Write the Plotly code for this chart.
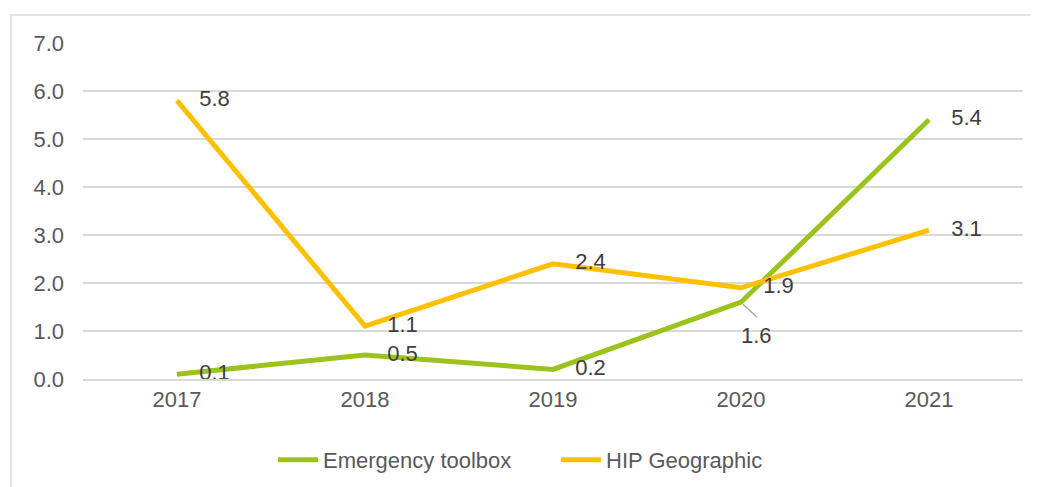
import plotly.graph_objects as go

years = ["2017", "2018", "2019", "2020", "2021"]
emergency = [0.1, 0.5, 0.2, 1.6, 5.4]
hip = [5.8, 1.1, 2.4, 1.9, 3.1]
y_ticks = [0, 1, 2, 3, 4, 5, 6, 7]
y_tick_text = ["0.0", "1.0", "2.0", "3.0", "4.0", "5.0", "6.0", "7.0"]

GREEN = "#9BC31C"
YELLOW = "#FFC000"
TEXT = "#595959"
LABEL = "#404040"
GRID = "#D9D9D9"
FONT = "Liberation Sans, Arial, sans-serif"
FS = 22
NBSP = "\u00a0"

fig = go.Figure()
fig.add_trace(go.Scatter(x=years, y=emergency, mode="lines", name="Emergency toolbox",
                         line=dict(color=GREEN, width=5)))
fig.add_trace(go.Scatter(x=years, y=hip, mode="lines", name="HIP Geographic",
                         line=dict(color=YELLOW, width=5)))

# data labels right of the points (the 2020 emergency label goes below)
for name, series in (("em", emergency), ("hip", hip)):
    texts = []
    for x, v in zip(years, series):
        texts.append("" if (name == "em" and x == "2020") else f"{v:.1f}")
    fig.add_trace(go.Scatter(x=years, y=series, mode="markers+text", text=texts,
                             textposition="middle right",
                             textfont=dict(family=FONT, size=FS, color=LABEL),
                             marker=dict(size=34, opacity=0), showlegend=False,
                             hoverinfo="skip", cliponaxis=False))

# 2020 emergency label below the point, with a leader line
idx = years.index("2020")
fig.add_trace(go.Scatter(x=[years[idx]], y=[emergency[idx]], mode="markers+text",
                         text=[NBSP * 5 + f"{emergency[idx]:.1f}"],
                         textposition="bottom center",
                         textfont=dict(family=FONT, size=FS, color=LABEL),
                         marker=dict(size=37, opacity=0), showlegend=False,
                         hoverinfo="skip", cliponaxis=False))

W, H = 1030, 479
L, R, T, B = 75, 15, 35, 108
pw, ph = W - L - R, H - T - B

fig.update_layout(
    width=W, height=H,
    margin=dict(l=L, r=R, t=T, b=B, autoexpand=False),
    paper_bgcolor="white", plot_bgcolor="white",
    font=dict(family=FONT, size=FS, color=TEXT),
    showlegend=True,
    legend=dict(orientation="h", x=(548 - L) / pw, xanchor="center",
                yref="container", y=1 - 452 / H, yanchor="middle",
                font=dict(family=FONT, size=FS, color=TEXT), itemwidth=40,
                entrywidth=228),
    shapes=[
        dict(type="rect", xref="paper", yref="paper",
             x0=(3 - L) / pw, x1=(1050 - L) / pw,
             y0=-(500 - (T + ph)) / ph, y1=((T + ph) - 7) / ph,
             line=dict(color=GRID, width=1.5), fillcolor="rgba(0,0,0,0)", layer="below"),
        dict(type="line", xref="x", yref="y", xsizemode="pixel", ysizemode="pixel",
             xanchor=idx, yanchor=emergency[idx], x0=2, y0=-2, x1=16, y1=-15,
             line=dict(color="#A6A6A6", width=1.3)),
    ],
)
fig.update_xaxes(type="category", range=[-0.5, 4.5], showgrid=False, showline=True,
                 linecolor=GRID, linewidth=1.5, ticks="", tickfont=dict(size=FS, color=TEXT),
                 zeroline=False, automargin=False)
fig.update_yaxes(range=[0, 7], tickvals=y_ticks, ticktext=y_tick_text, showgrid=True,
                 gridcolor=GRID, gridwidth=1.5, showline=False, zeroline=False, ticks="",
                 ticklabelstandoff=18, tickfont=dict(size=FS, color=TEXT), automargin=False)

fig.write_html("out.html")
